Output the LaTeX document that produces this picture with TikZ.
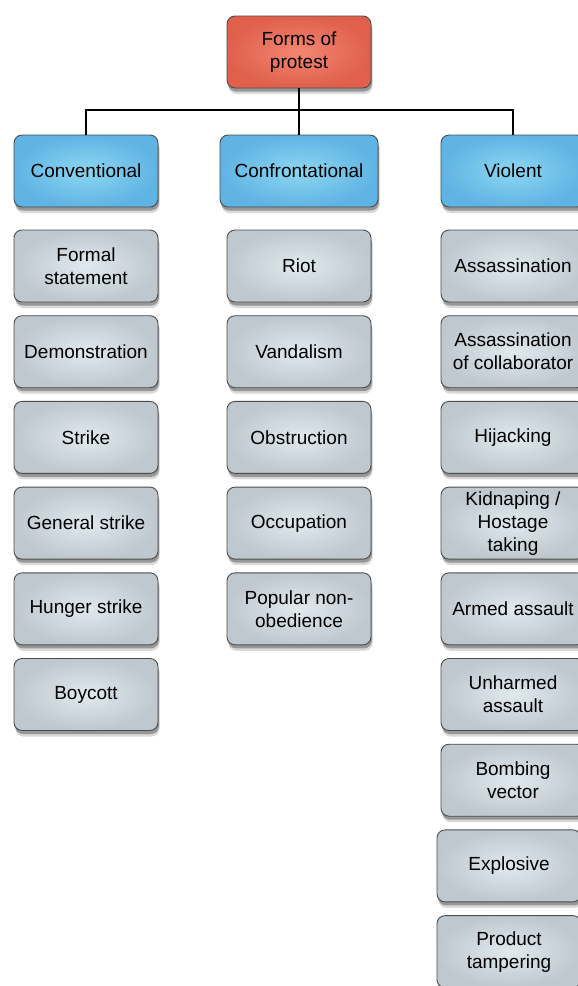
\documentclass[tikz,border=0pt]{standalone}
\usepackage{fontspec}
\setmainfont{Liberation Sans}
\usepackage{tikz}
\usetikzlibrary{shapes.geometric,shadows}
\definecolor{rootin}{RGB}{242,135,115}
\definecolor{rootout}{RGB}{224,96,76}
\definecolor{catin}{RGB}{140,214,240}
\definecolor{catout}{RGB}{96,180,228}
\definecolor{itemin}{RGB}{224,233,238}
\definecolor{itemout}{RGB}{190,200,206}
\tikzstyle{box} = [rectangle, draw=black!70, line width=0.9pt, rounded corners=8pt,
  align=center, minimum width=144pt, minimum height=72pt, inner sep=2pt,
  font=\fontsize{19}{23}\selectfont, shading=radial,
  drop shadow={shadow xshift=1.5pt, shadow yshift=-6pt, opacity=0.15, fill=black},
  drop shadow={shadow xshift=1pt, shadow yshift=-3.5pt, opacity=0.3, fill=black}]
\tikzstyle{root} = [box, inner color=rootin, outer color=rootout]
\tikzstyle{category} = [box, inner color=catin, outer color=catout]
\tikzstyle{item} = [box, inner color=itemin, outer color=itemout]
\tikzstyle{line} = [draw, line width=1.2pt]
\begin{document}
\begin{tikzpicture}[x=1pt, y=-1pt, node distance=85.7pt]
    \useasboundingbox (0,0) rectangle (578,986);
    \node[root] at (299,52) (forms) {Forms of\\protest};

    \node[category, below of=forms, node distance=119pt, minimum width=158pt] (confront) {Confrontational};
    \node[category, left of=confront, node distance=213pt] (conv) {Conventional};
    \node[category, right of=confront, node distance=214pt] (violent) {Violent};
    \coordinate (bus) at (299,110);

    % conventional
    \node[item, below of=conv, node distance=95pt] (formal) {Formal\\statement};
    \node[item, below of=formal] (demo) {Demonstration};
    \node[item, below of=demo] (strike) {Strike};
    \node[item, below of=strike] (general) {General strike};
    \node[item, below of=general] (hunger) {Hunger strike};
    \node[item, below of=hunger] (boycott) {Boycott};

    % confrontational
    \node[item, below of=confront, node distance=95pt] (riot) {Riot};
    \node[item, below of=riot] (vandal) {Vandalism};
    \node[item, below of=vandal] (obstruct) {Obstruction};
    \node[item, below of=obstruct] (occupy) {Occupation};
    \node[item, below of=occupy] (popular) {Popular non-\\obedience};

    % violent
    \node[item, below of=violent, node distance=95pt] (assass) {Assassination};
    \node[item, below of=assass] (collab) {Assassination\\of collaborator};
    \node[item, below of=collab] (hijack) {Hijacking};
    \node[item, below of=hijack] (kidnap) {Kidnaping /\\Hostage\\taking};
    \node[item, below of=kidnap] (armed) {Armed assault};
    \node[item, below of=armed] (unharmed) {Unharmed\\assault};
    \node[item, below of=unharmed] (bombing) {Bombing\\vector};
    \node[item, below of=bombing, xshift=-4pt] (explosive) {Explosive};
    \node[item, below of=explosive] (tamper) {Product\\tampering};

    \path[line] (forms) -- (confront);
    \path[line] (conv) |- (bus);
    \path[line] (violent) |- (bus);
  \end{tikzpicture}
\end{document}
